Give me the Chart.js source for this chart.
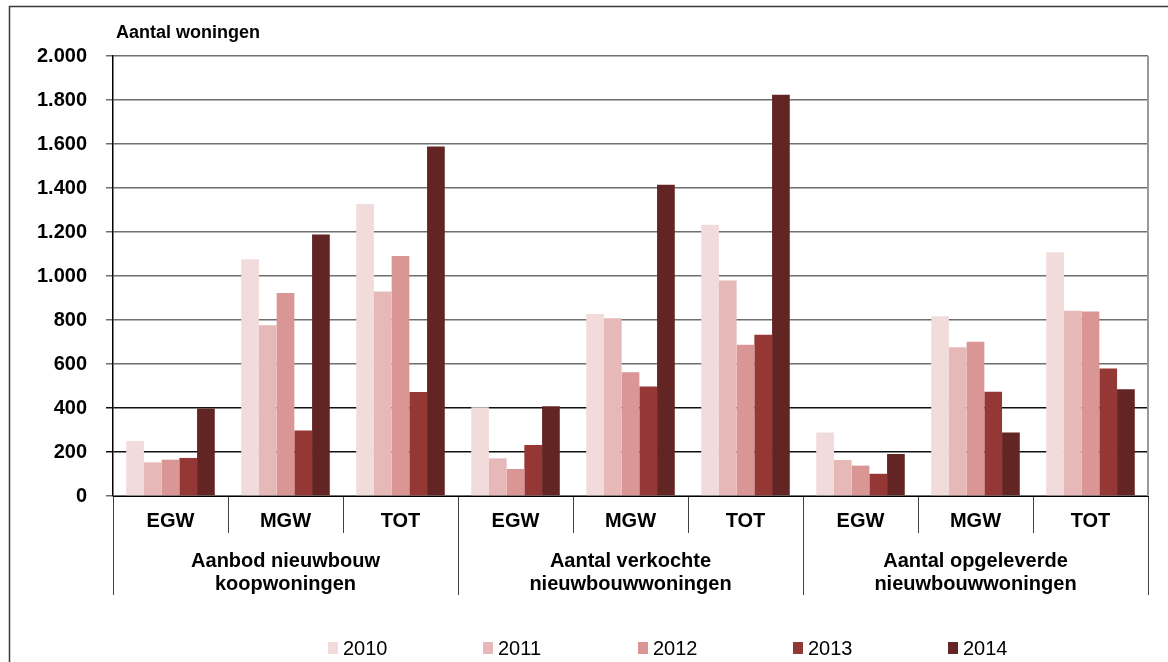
<!DOCTYPE html>
<html>
<head>
<meta charset="utf-8">
<script src="https://cdn.jsdelivr.net/npm/chart.js@4/dist/chart.umd.min.js"></script>
<style>
  html, body { margin: 0; padding: 0; background: #fff; }
  .grafico { position: relative; width: 1168px; height: 662px; }
</style>
</head>
<body>
<div class="grafico"><canvas id="chart"></canvas></div>
<script>
// categorieën op de x-as
const categorieen = ['EGW', 'MGW', 'TOT', 'EGW', 'MGW', 'TOT', 'EGW', 'MGW', 'TOT']

// hoofdgroepen (elk 3 categorieën)
const groepen = [
  ['Aanbod nieuwbouw', 'koopwoningen'],
  ['Aantal verkochte', 'nieuwbouwwoningen'],
  ['Aantal opgeleverde', 'nieuwbouwwoningen']
]

const jaren = ['2010', '2011', '2012', '2013', '2014']

// aantallen per jaar
const waarden2010 = [250, 1076, 1327, 403, 827, 1233, 289, 817, 1108]
const waarden2011 = [153, 776, 930, 171, 808, 980, 164, 676, 842]
const waarden2012 = [165, 923, 1091, 123, 562, 688, 138, 701, 839]
const waarden2013 = [173, 298, 473, 232, 498, 733, 101, 474, 580]
const waarden2014 = [398, 1189, 1589, 408, 1415, 1824, 191, 289, 485]

const yTicks = [0, 200, 400, 600, 800, 1000, 1200, 1400, 1600, 1800, 2000]

const kleuren = ['#F2DCDB', '#E6B9B8', '#D99694', '#953735', '#632523']
const reeksen = [waarden2010, waarden2011, waarden2012, waarden2013, waarden2014]

// 1.000 notatie
function metPunt (v) {
  return String(v).replace(/\B(?=(\d{3})+(?!\d))/g, '.')
}

// kader, y-titel, groeplabels, scheidingslijnen en legenda
const extraTekenen = {
  id: 'extraTekenen',
  beforeDraw (chart) {
    const ctx = chart.ctx
    ctx.save()
    ctx.strokeStyle = '#3a3a3a'
    ctx.lineWidth = 1.5
    ctx.strokeRect(9.5, 6.5, 1300, 900)
    ctx.restore()
  },
  afterDraw (chart) {
    const ctx = chart.ctx
    const x = chart.scales.x
    const area = chart.chartArea
    ctx.save()

    // rechterrand van plotvlak
    ctx.strokeStyle = '#9a9a9a'
    ctx.lineWidth = 2
    ctx.beginPath()
    ctx.moveTo(area.right, area.top)
    ctx.lineTo(area.right, area.bottom)
    ctx.stroke()

    // titel y-as
    ctx.fillStyle = '#000'
    ctx.font = 'bold 18px "Liberation Sans", Arial, sans-serif'
    ctx.textAlign = 'left'
    ctx.textBaseline = 'alphabetic'
    ctx.fillText('Aantal woningen', area.left + 3, 38)

    // lange scheidingslijnen tussen groepen
    ctx.strokeStyle = '#404040'
    ctx.lineWidth = 1
    for (let g = 0; g <= groepen.length; g++) {
      let px
      if (g === 0) px = x.left
      else if (g === groepen.length) px = x.right
      else px = (x.getPixelForValue(g * 3 - 1) + x.getPixelForValue(g * 3)) / 2
      px = Math.round(px) + 0.5
      ctx.beginPath()
      ctx.moveTo(px, x.top + 37)
      ctx.lineTo(px, x.top + 99)
      ctx.stroke()
    }

    // groeplabels
    ctx.font = 'bold 20px "Liberation Sans", Arial, sans-serif'
    ctx.textAlign = 'center'
    groepen.forEach((regels, g) => {
      const midden = x.getPixelForValue(g * 3 + 1)
      regels.forEach((regel, r) => {
        ctx.fillText(regel, midden, x.top + 71 + r * 23)
      })
    })

    // legenda
    ctx.font = '20px "Liberation Sans", Arial, sans-serif'
    ctx.textAlign = 'left'
    chart.data.datasets.forEach((ds, i) => {
      const lx = 328 + i * 155
      ctx.fillStyle = ds.backgroundColor
      ctx.fillRect(lx, 642, 10, 12)
      ctx.fillStyle = '#000'
      ctx.fillText(ds.label, lx + 15, 655)
    })
    ctx.restore()
  }
}

new Chart('chart', {
  type: 'bar',
  data: {
    labels: categorieen,
    datasets: jaren.map((jaar, i) => ({
      label: jaar,
      data: reeksen[i],
      backgroundColor: kleuren[i],
      borderWidth: 0,
      categoryPercentage: 0.77,
      barPercentage: 1
    }))
  },
  options: {
    responsive: true,
    maintainAspectRatio: false,
    animation: false,
    layout: { padding: { top: 56, left: 8, right: 20, bottom: 0 } },
    plugins: {
      legend: { display: false },
      title: { display: false },
      tooltip: { enabled: false }
    },
    scales: {
      x: {
        afterFit: s => { s.height = 166 },
        grid: { drawOnChartArea: false, tickLength: 37, color: '#404040', lineWidth: 1 },
        border: { color: '#000', width: 1 },
        ticks: {
          color: '#000',
          padding: -24,
          maxRotation: 0,
          autoSkip: false,
          font: { family: '"Liberation Sans", Arial, sans-serif', size: 20, weight: 'bold' }
        }
      },
      y: {
        min: 0,
        max: 2000,
        afterFit: s => { s.width = 105 },
        afterBuildTicks: s => { s.ticks = yTicks.map(v => ({ value: v })) },
        grid: {
          tickLength: 7,
          color: c => (c.tick && (c.tick.value === 200 || c.tick.value === 400)) ? '#111' : '#6e6e6e',
          lineWidth: 1.5
        },
        border: { color: '#000', width: 1.5 },
        ticks: {
          color: '#000',
          padding: 19,
          callback: v => metPunt(v),
          font: { family: '"Liberation Sans", Arial, sans-serif', size: 20, weight: 'bold' }
        }
      }
    }
  },
  plugins: [extraTekenen]
})
</script>
</body>
</html>
